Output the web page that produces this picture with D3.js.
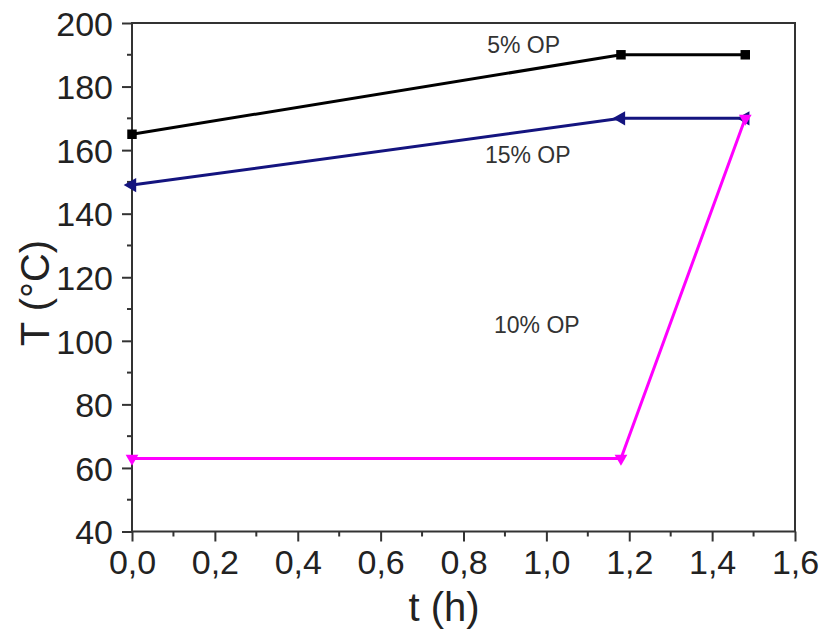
<!DOCTYPE html>
<html>

<head>
  <meta http-equiv="content-type" content="text/html; charset=utf-8">
  <title>T vs t</title>
  <style>
    body { margin: 0; background: #fff; }
    svg#canvas { display: block; font-family: "Liberation Sans", Arial, sans-serif; }
  </style>
</head>

<body>
  <svg id="canvas"></svg>

  <script src="https://d3js.org/d3.v7.min.js"></script>
  <script>

    // data
    const t_op5 = [0, 1.18, 1.48];
    const T_op5 = [165, 190, 190];
    const t_op15 = [0, 1.18, 1.48];
    const T_op15 = [149, 170, 170];
    const t_op10 = [0, 1.18, 1.48];
    const T_op10 = [63, 63, 170];

    const xTicks = [0, 0.2, 0.4, 0.6, 0.8, 1.0, 1.2, 1.4, 1.6];
    const yTicks = [40, 60, 80, 100, 120, 140, 160, 180, 200];

    const labels = [
      { text: "5% OP", t: 0.945, T: 190.5 },
      { text: "15% OP", t: 0.955, T: 156 },
      { text: "10% OP", t: 0.977, T: 102.5 }
    ];

    const zip = (xs, ys) => xs.map((v, i) => ({ x: v, y: ys[i] }));
    const series = [
      { pts: zip(t_op5, T_op5), color: "#000000", marker: "square" },
      { pts: zip(t_op15, T_op15), color: "#14147f", marker: "triLeft" },
      { pts: zip(t_op10, T_op10), color: "#ff00ff", marker: "triDown" }
    ];

    const W = 822, H = 630;
    const svg = d3.select("svg#canvas").attr("width", W).attr("height", H);

    const x = d3.scaleLinear().domain([0, 1.6]).range([132, 795]);
    const y = d3.scaleLinear().domain([40, 200]).range([531.5, 23]);

    const axisColor = "#333";
    const fmt = d => d3.format(".1f")(d).replace(".", ",");

    // minor ticks
    const xMinor = d3.range(0.1, 1.6, 0.2);
    const yMinor = d3.range(50, 200, 20);
    svg.append("g").selectAll("line").data(xMinor).enter().append("line")
      .attr("x1", d => x(d)).attr("x2", d => x(d))
      .attr("y1", y(40)).attr("y2", y(40) + 5)
      .attr("stroke", axisColor).attr("stroke-width", 2);
    svg.append("g").selectAll("line").data(yMinor).enter().append("line")
      .attr("y1", d => y(d)).attr("y2", d => y(d))
      .attr("x1", x(0)).attr("x2", x(0) - 5)
      .attr("stroke", axisColor).attr("stroke-width", 2);

    // axes
    const gx = svg.append("g")
      .attr("transform", "translate(0," + y(40) + ")")
      .call(d3.axisBottom(x).tickValues(xTicks).tickFormat(fmt).tickSize(10).tickSizeOuter(0).tickPadding(8));
    const gy = svg.append("g")
      .attr("transform", "translate(" + x(0) + ",0)")
      .call(d3.axisLeft(y).tickValues(yTicks).tickFormat(d3.format("d")).tickSize(10).tickSizeOuter(0).tickPadding(9));

    [gx, gy].forEach(g => {
      g.select(".domain").remove();
      g.selectAll("line").attr("stroke", axisColor).attr("stroke-width", 2);
      g.selectAll("text").attr("fill", "#222").style("font-size", "34px")
        .style("font-family", "'Liberation Sans', Arial, sans-serif");
    });
    gy.selectAll("text").attr("dy", "0.36em");

    // frame
    svg.append("rect")
      .attr("x", x(0)).attr("y", y(200))
      .attr("width", x(1.6) - x(0)).attr("height", y(40) - y(200))
      .attr("fill", "none").attr("stroke", axisColor).attr("stroke-width", 2);

    // lines
    const line = d3.line().x(d => x(d.x)).y(d => y(d.y));
    const sym = {
      square: d3.symbol().type(d3.symbolSquare).size(90),
      triLeft: d3.symbol().type(d3.symbolTriangle).size(90),
      triDown: d3.symbol().type(d3.symbolTriangle).size(70)
    };
    const rot = { square: 0, triLeft: -90, triDown: 180 };

    series.forEach(s => {
      svg.append("path")
        .datum(s.pts)
        .attr("d", line)
        .attr("fill", "none")
        .attr("stroke", s.color)
        .attr("stroke-width", 3);
    });
    series.forEach(s => {
      svg.append("g").selectAll("path").data(s.pts).enter().append("path")
        .attr("d", sym[s.marker])
        .attr("transform", d => "translate(" + x(d.x) + "," + y(d.y) + ") rotate(" + rot[s.marker] + ")")
        .attr("fill", s.color);
    });

    // series labels
    svg.append("g").selectAll("text").data(labels).enter().append("text")
      .attr("x", d => x(d.t)).attr("y", d => y(d.T))
      .attr("text-anchor", "middle")
      .attr("fill", "#333")
      .style("font-size", "23px")
      .text(d => d.text);

    // axis titles
    svg.append("text")
      .attr("x", 444).attr("y", 621)
      .attr("text-anchor", "middle")
      .attr("fill", "#222")
      .style("font-size", "40px")
      .text("t (h)");

    svg.append("text")
      .attr("transform", "translate(49,293) rotate(-90)")
      .attr("text-anchor", "middle")
      .attr("fill", "#222")
      .style("font-size", "40px")
      .text("T (°C)");

  </script>
</body>

</html>
